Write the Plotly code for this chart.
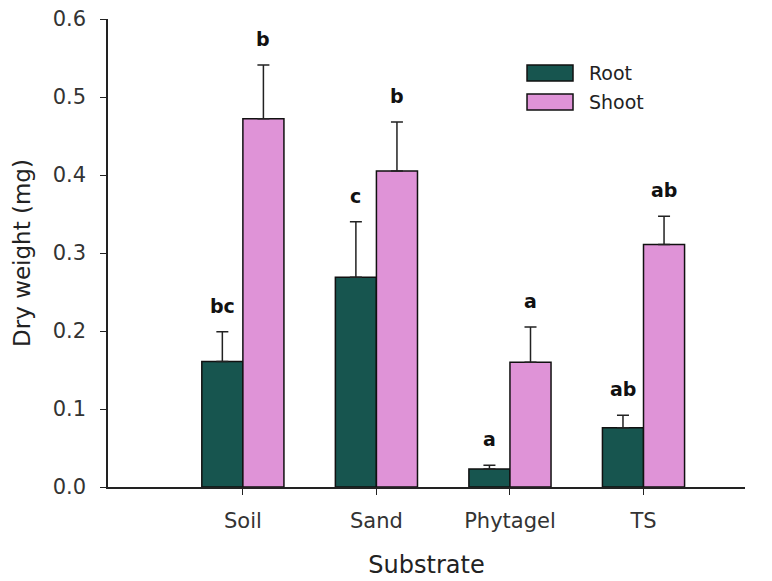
import plotly.graph_objects as go

categories = ["Soil", "Sand", "Phytagel", "TS"]
root_mean = [0.161, 0.269, 0.023, 0.076]
root_upper = [0.199, 0.340, 0.028, 0.092]
shoot_mean = [0.472, 0.405, 0.160, 0.311]
shoot_upper = [0.541, 0.468, 0.205, 0.347]
root_letters = ["bc", "c", "a", "ab"]
shoot_letters = ["b", "b", "a", "ab"]
y_ticks = [0.0, 0.1, 0.2, 0.3, 0.4, 0.5, 0.6]
series_names = ["Root", "Shoot"]

FONT = "DejaVu Sans"
ROOT_C = "#17554f"
SHOOT_C = "#df93d7"
colors = [ROOT_C, SHOOT_C]

fig = go.Figure()
for name, mean, upper, col in [("Root", root_mean, root_upper, ROOT_C), ("Shoot", shoot_mean, shoot_upper, SHOOT_C)]:
    fig.add_trace(go.Bar(
        name=name, x=categories, y=mean, showlegend=False,
        marker=dict(color=col, line=dict(color="#111", width=1.5)),
        error_y=dict(type="data", symmetric=False, array=[u - m for u, m in zip(upper, mean)],
                     arrayminus=[0] * 4, color="#222", thickness=1.5, width=6),
    ))

for i, c in enumerate(categories):
    fig.add_annotation(x=i, xshift=-20.5, y=root_upper[i], text="<b>%s</b>" % root_letters[i], showarrow=False,
                       yanchor="bottom", yshift=13, font=dict(family=FONT, size=19, color="#111"))
    fig.add_annotation(x=i, xshift=20.5, y=shoot_upper[i], text="<b>%s</b>" % shoot_letters[i], showarrow=False,
                       yanchor="bottom", yshift=13, font=dict(family=FONT, size=19, color="#111"))

# legend drawn as boxes + labels (plot-area fractions)
leg_rows = [(0.8675, 0.9017), (0.8056, 0.8397)]
for (y0, y1), name, col in zip(leg_rows, series_names, colors):
    fig.add_shape(type="rect", xref="paper", yref="paper", x0=0.6578, x1=0.730, y0=y0, y1=y1,
                  fillcolor=col, line=dict(color="#111", width=1.5))
    fig.add_annotation(xref="paper", yref="paper", x=0.752, y=(y0 + y1) / 2, text=name, showarrow=False,
                       xanchor="left", yanchor="middle", font=dict(family=FONT, size=19, color="#222"))

fig.update_layout(
    width=772, height=581,
    margin=dict(l=108, r=27, t=19, b=94),
    paper_bgcolor="white", plot_bgcolor="white",
    barmode="group", bargap=0.385, bargroupgap=0,
    font=dict(family=FONT, color="#333"),
    showlegend=False,
    xaxis=dict(
        type="category", range=[-1.01, 3.76], showline=True, linecolor="#222", linewidth=1.5,
        ticks="outside", ticklen=6, tickcolor="#222", showgrid=False, ticklabelstandoff=8,
        automargin=False,
        tickfont=dict(family=FONT, size=21, color="#333"),
        title=dict(text="Substrate", font=dict(family=FONT, size=24, color="#222"), standoff=24),
    ),
    yaxis=dict(
        range=[0, 0.6], tickvals=y_ticks, tickformat=".1f", showline=True, linecolor="#222", linewidth=1.5,
        ticks="outside", ticklen=6, tickcolor="#222", showgrid=False, zeroline=False, ticklabelstandoff=10,
        automargin=False,
        tickfont=dict(family=FONT, size=21, color="#333"),
        title=dict(text="Dry weight (mg)", font=dict(family=FONT, size=23, color="#222"), standoff=16),
    ),
)

fig.write_html("out.html")
